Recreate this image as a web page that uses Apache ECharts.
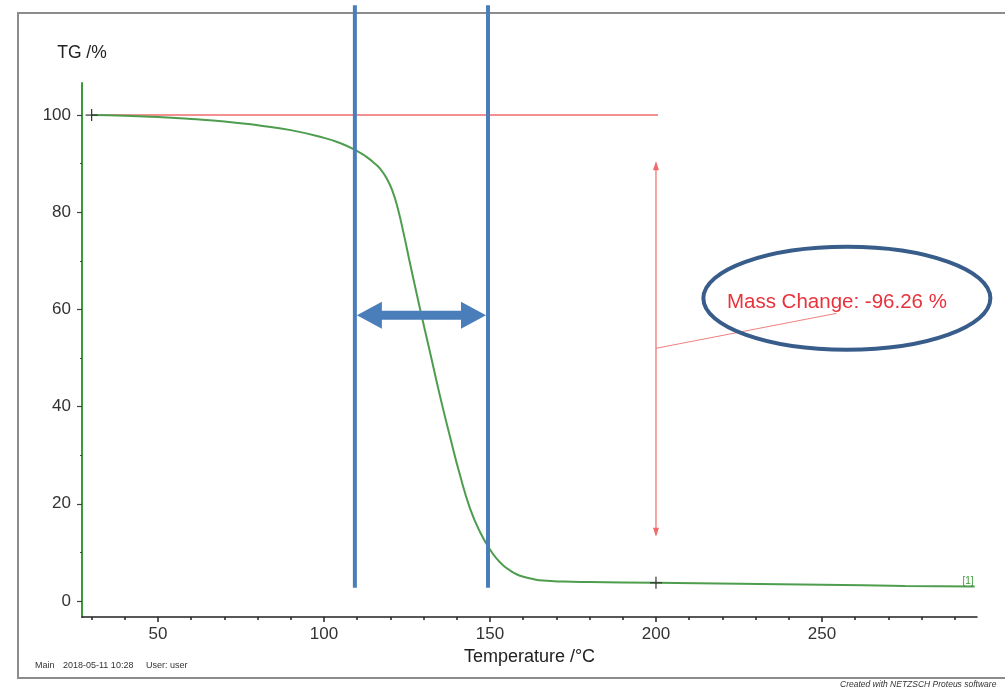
<!DOCTYPE html>
<html><head><meta charset="utf-8">
<script src="https://cdn.jsdelivr.net/npm/echarts@6/dist/echarts.min.js"></script>
<style>html,body{margin:0;padding:0;background:#fff}#c{width:1005px;height:689px}</style>
</head><body><div id="c"></div>
<script>
// ---- data ----
const temperature = [30,40,50,60,70,80,90,100,105,110,113,115,117,119,120.5,122,124,126,129,132,135,138,141,144,147,150,152,154,156,158,160,163,166,172,180,200,225,250,275,296];
const tgPercent   = [100,99.85,99.6,99.2,98.7,97.9,96.9,95.3,94.2,92.6,91.3,90.2,88.9,86.8,84.6,81.4,75.6,69.2,59.9,51,42,33.7,25.8,19,14.2,10.6,8.7,7.3,6.3,5.5,5.0,4.5,4.2,4.0,3.9,3.74,3.55,3.35,3.1,3.0];
const xMajorTicks = [50,100,150,200,250];
const xMinorTicks = [30,40,60,70,80,90,110,120,130,140,160,170,180,190,210,220,230,240,260,270,280,290];
const yMajorTicks = [0,20,40,60,80,100];
const yMinorTicks = [10,30,50,70,90];
const stepStart = [30,100];
const stepEnd = [200,3.74];
const massChangeLabel = 'Mass Change: -96.26 %';
const massArrowRange = [90.5,13.2];
const leaderFrom = [200,52.0];
const leaderTo = [254.4,59.2];
const labelAt = [254.5,61.5];
const ellipseAt = [257.5,62.3];
const blueMarkers = [109.3,149.4];
const blueRange = [122.6,2.7];
const blueArrowLevel = 58.8;
const curveTag = [294,4.1];

const FONT = "'Liberation Sans', Arial, sans-serif";
const chart = echarts.init(document.getElementById('c'), null, {renderer:'canvas'});

function cross(p, col){
  return [
    {type:'line', shape:{x1:p[0]-6,y1:p[1],x2:p[0]+6,y2:p[1]}, style:{stroke:col,lineWidth:1.2}},
    {type:'line', shape:{x1:p[0],y1:p[1]-6,x2:p[0],y2:p[1]+6}, style:{stroke:col,lineWidth:1.2}}
  ];
}

function redRender(params, api){
  const h0 = api.coord(stepStart), h1 = api.coord([stepEnd[0], stepStart[1]]);
  const aT = api.coord([stepEnd[0], massArrowRange[0]]), aB = api.coord([stepEnd[0], massArrowRange[1]]);
  const l0 = api.coord(leaderFrom), l1 = api.coord(leaderTo);
  const t = api.coord(labelAt);
  const red = '#f06a6a';
  return {type:'group', children:[
    {type:'line', shape:{x1:h0[0],y1:h0[1],x2:h1[0]+2,y2:h1[1]}, style:{stroke:'#f39090',lineWidth:2}},
    {type:'line', shape:{x1:aT[0],y1:aT[1]+2,x2:aB[0],y2:aB[1]-2}, style:{stroke:red,lineWidth:1.2}},
    {type:'polygon', shape:{points:[[aT[0],aT[1]],[aT[0]-3,aT[1]+9],[aT[0]+3,aT[1]+9]]}, style:{fill:red}},
    {type:'polygon', shape:{points:[[aB[0],aB[1]],[aB[0]-3,aB[1]-9],[aB[0]+3,aB[1]-9]]}, style:{fill:red}},
    {type:'line', shape:{x1:l0[0],y1:l0[1],x2:l1[0],y2:l1[1]}, style:{stroke:'#f08080',lineWidth:1}},
    {type:'text', x:t[0], y:t[1], style:{text:massChangeLabel, fill:'#e8323c', font:'20.5px '+FONT, align:'center', verticalAlign:'middle'}}
  ]};
}

function markRender(params, api){
  const c0 = cross(api.coord(stepStart), '#333');
  const c1 = cross(api.coord(stepEnd), '#333');
  const tg = api.coord(curveTag);
  return {type:'group', children:c0.concat(c1).concat([
    {type:'text', x:tg[0], y:tg[1], style:{text:'[1]', fill:'#3a9a3a', font:'10px '+FONT, align:'center', verticalAlign:'middle'}}
  ])};
}

function blueRender(params, api){
  const blue = '#4a7ebb';
  const children = [];
  blueMarkers.forEach(function(x){
    const a = api.coord([x, blueRange[0]]), b = api.coord([x, blueRange[1]]);
    children.push({type:'line', shape:{x1:a[0],y1:a[1],x2:b[0],y2:b[1]}, style:{stroke:blue,lineWidth:4}});
  });
  const L = api.coord([blueMarkers[0], blueArrowLevel]), R = api.coord([blueMarkers[1], blueArrowLevel]);
  const x1 = L[0]+2, x2 = R[0]-2, y = L[1], hl = 25, hh = 13.5, s = 4.5;
  children.push({type:'polygon', shape:{points:[
    [x1,y],[x1+hl,y-hh],[x1+hl,y-s],[x2-hl,y-s],[x2-hl,y-hh],[x2,y],[x2-hl,y+hh],[x2-hl,y+s],[x1+hl,y+s],[x1+hl,y+hh]
  ]}, style:{fill:blue}});
  const e = api.coord(ellipseAt);
  children.push({type:'ellipse', shape:{cx:e[0], cy:e[1], rx:143.5, ry:51.5}, style:{fill:'none', stroke:'#385d8a', lineWidth:4}});
  return {type:'group', children:children};
}

const seriesData = temperature.map(function(t,i){return [t, tgPercent[i]];});

chart.setOption({
  backgroundColor:'#fff',
  animation:false,
  textStyle:{fontFamily:FONT},
  grid:{left:82, right:28, top:83, bottom:72, containLabel:false},
  xAxis:[{
    type:'value', min:27.1, max:296.7, position:'bottom',
    name:'Temperature /°C', nameLocation:'middle', nameGap:28,
    nameTextStyle:{fontSize:18, color:'#222', fontFamily:FONT},
    axisLine:{show:true, onZero:false, lineStyle:{color:'#222', width:1.5}},
    axisTick:{show:true, inside:false, length:5, customValues:xMajorTicks, lineStyle:{color:'#222', width:1.5}},
    axisLabel:{show:true, customValues:xMajorTicks, fontSize:17, color:'#333', margin:9, fontFamily:FONT},
    splitLine:{show:false}
  },{
    type:'value', min:27.1, max:296.7, position:'bottom', gridIndex:0,
    axisLine:{show:false, onZero:false},
    axisTick:{show:true, inside:false, length:3, customValues:xMinorTicks, lineStyle:{color:'#222', width:1.5}},
    axisLabel:{show:false},
    splitLine:{show:false}
  }],
  yAxis:[{
    type:'value', min:-3.3, max:106.6, position:'left',
    name:'TG /%', nameLocation:'end', nameGap:21,
    nameTextStyle:{fontSize:17.5, color:'#222', fontFamily:FONT},
    axisLine:{show:true, onZero:false, lineStyle:{color:'#3a9a3a', width:2}},
    axisTick:{show:true, inside:false, length:5, customValues:yMajorTicks, lineStyle:{color:'#444', width:1.2}},
    axisLabel:{show:true, customValues:yMajorTicks, fontSize:17, color:'#333', margin:11, fontFamily:FONT},
    splitLine:{show:false}
  },{
    type:'value', min:-3.3, max:106.6, position:'left', gridIndex:0,
    axisLine:{show:false, onZero:false},
    axisTick:{show:true, inside:false, length:2, customValues:yMinorTicks, lineStyle:{color:'#444', width:1.2}},
    axisLabel:{show:false},
    splitLine:{show:false}
  }],
  series:[
    {type:'custom', coordinateSystem:'cartesian2d', xAxisIndex:0, yAxisIndex:0, clip:false, z:1, silent:true,
     data:[stepStart], renderItem:redRender},
    {type:'line', xAxisIndex:0, yAxisIndex:0, data:seriesData, smooth:0.5, showSymbol:false, z:2,
     lineStyle:{color:'#4e9d4e', width:2}},
    {type:'custom', coordinateSystem:'cartesian2d', xAxisIndex:0, yAxisIndex:0, clip:false, z:3, silent:true,
     data:[stepStart], renderItem:markRender},
    {type:'custom', coordinateSystem:'cartesian2d', xAxisIndex:0, yAxisIndex:0, clip:false, z:4, silent:true,
     data:[stepStart], renderItem:blueRender}
  ],
  graphic:[
    {type:'rect', shape:{x:18, y:13, width:1000, height:665}, style:{fill:'none', stroke:'#8c8c8c', lineWidth:2}, z:0},
    {type:'text', x:35, y:666, style:{text:'Main', fill:'#333', font:'9px '+FONT, verticalAlign:'middle'}},
    {type:'text', x:63, y:666, style:{text:'2018-05-11 10:28', fill:'#333', font:'9px '+FONT, verticalAlign:'middle'}},
    {type:'text', x:146, y:666, style:{text:'User: user', fill:'#333', font:'9px '+FONT, verticalAlign:'middle'}},
    {type:'text', x:840, y:685, style:{text:'Created with NETZSCH Proteus software', fill:'#333', font:'italic 8.5px '+FONT, verticalAlign:'middle'}}
  ]
});
</script>
</body></html>
